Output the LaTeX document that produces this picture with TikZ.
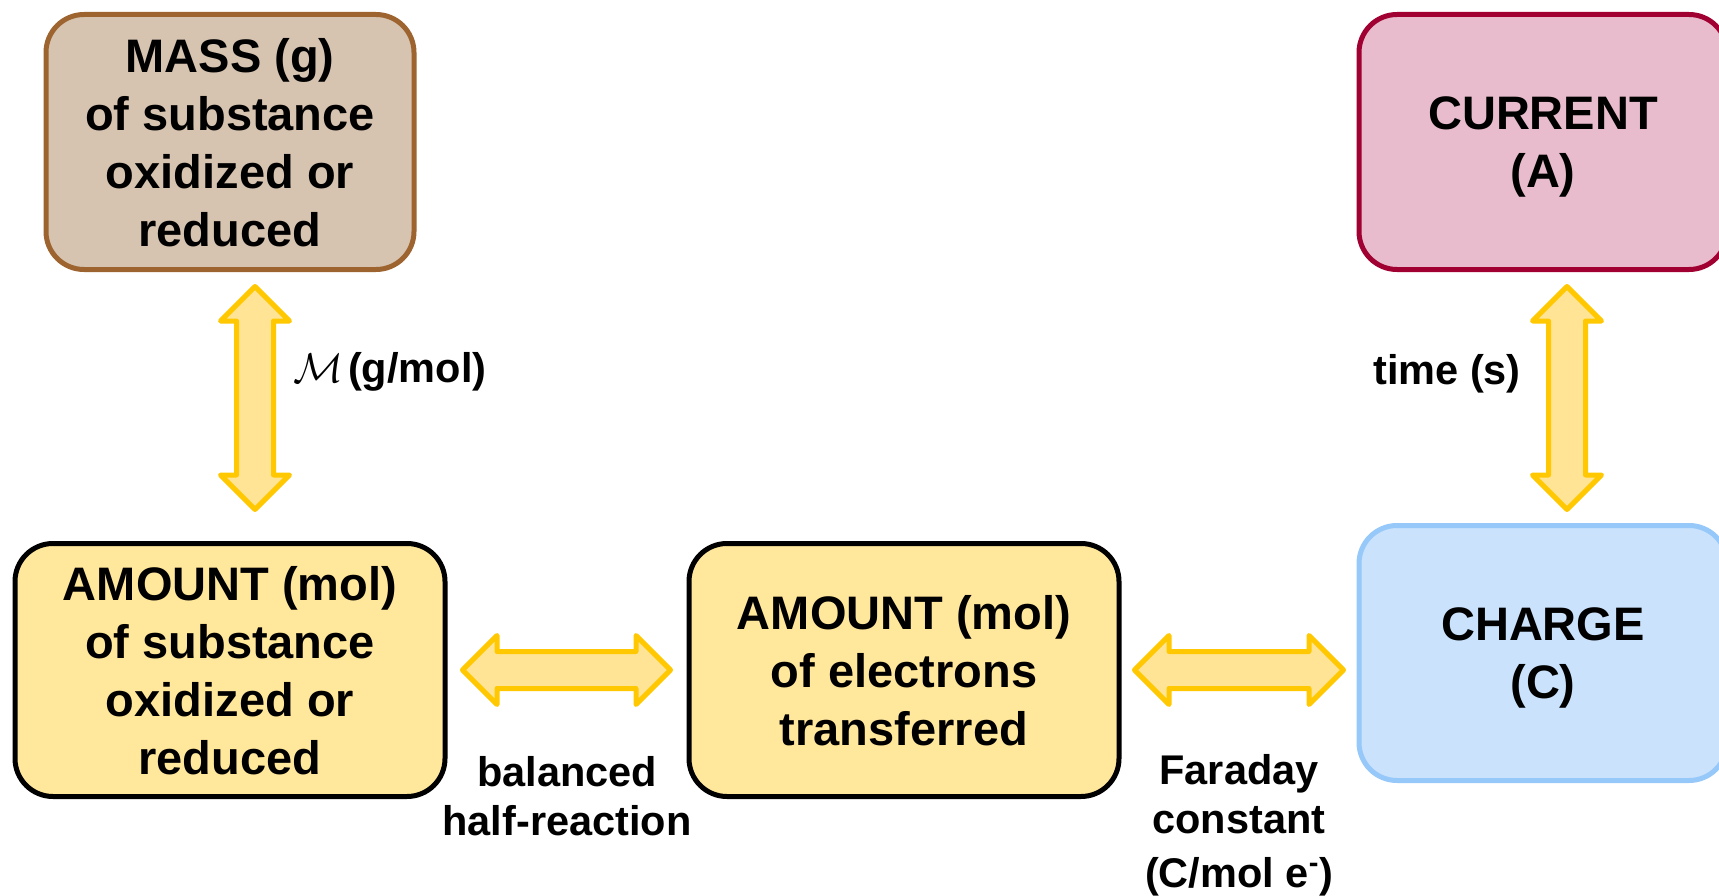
\documentclass[tikz,border=0pt]{standalone}
\usepackage{fix-cm}
\usepackage{fontspec}
\setmainfont{Liberation Sans}
\usetikzlibrary{positioning,shapes.arrows}
\definecolor{massfill}{RGB}{214,195,176}
\definecolor{massline}{RGB}{158,100,48}
\definecolor{curfill}{RGB}{232,188,204}
\definecolor{curline}{RGB}{160,0,50}
\definecolor{chgfill}{RGB}{202,226,252}
\definecolor{chgline}{RGB}{150,200,250}
\definecolor{amtfill}{RGB}{255,231,155}
\definecolor{arrline}{RGB}{255,200,0}
\definecolor{arrfill}{RGB}{255,228,150}
\newcommand{\boxfont}{\fontsize{47}{58}\selectfont\bfseries}
\newcommand{\lblfont}{\fontsize{41.5}{49.5}\selectfont\bfseries}
\tikzset{
  box/.style={
    rectangle, rounded corners=38pt, line width=5pt, align=center, inner sep=0pt,
    font=\boxfont, text depth=0pt, minimum width=368, minimum height=255
  },
  amtbox/.style={box, draw=black, fill=amtfill, minimum width=430, minimum height=253},
  dblarr/.style={
    double arrow, draw=arrline, fill=arrfill, line width=5pt, line join=round,
    double arrow head extend=16pt, double arrow tip angle=90, inner xsep=0pt, inner ysep=16pt
  },
  lbl/.style={font=\lblfont, align=center, inner sep=0pt}
}
\begin{document}
\begin{tikzpicture}[x=1pt, y=-1pt]
\useasboundingbox (0,0) rectangle (1719,896);
\clip (0,0) rectangle (1719,896);
% boxes
\node[amtbox] (amt) at (230,670) {AMOUNT (mol)\\of substance\\oxidized or\\reduced};
\node[box, draw=massline, fill=massfill, above=269pt of amt] (mass) {MASS (g)\\of substance\\oxidized or\\reduced};
\node[amtbox, right=239pt of amt] (elec) {AMOUNT (mol)\\of electrons\\transferred};
\node[box, draw=chgline, fill=chgfill, right=235pt of elec, yshift=17pt] (charge) {CHARGE\\(C)};
\node[box, draw=curline, fill=curfill, above=251pt of charge] (current) {CURRENT\\(A)};
% block arrows
\node[dblarr, rotate=90, minimum height=223] (molar) at (255,398) {};
\node[dblarr, rotate=90, minimum height=223] (time) at (1567,398) {};
\node[dblarr, minimum height=208] (half) at (566.5,670) {};
\node[dblarr, minimum height=209] (faraday) at (1239,670) {};
% labels
\node[lbl, anchor=west] (molarlbl) at (293,372) {$\mathcal{M}$\hspace{5pt}(g/mol)};
\node[lbl] (timelbl) at (1447,374) {time (s)};
\node[lbl] (halflbl) at (567,796) {balanced\\half-reaction};
\node[lbl] (faradaylbl) at (1239,825) {Faraday\\constant\\[4pt](C/mol e\textsuperscript{-})};
\end{tikzpicture}
\end{document}
